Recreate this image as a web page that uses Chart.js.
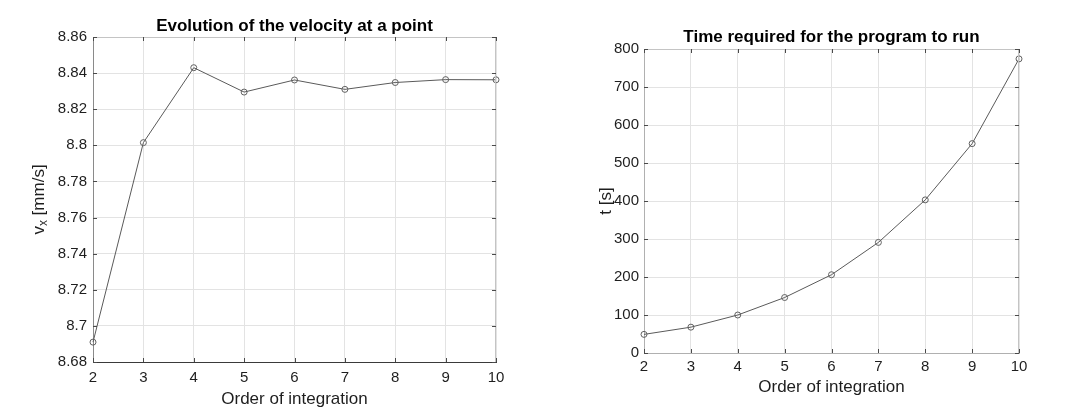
<!DOCTYPE html>
<html>
<head>
<meta charset="utf-8">
<script src="https://cdn.jsdelivr.net/npm/chart.js@4/dist/chart.umd.min.js"></script>
<style>
  html, body { margin: 0; padding: 0; background: #fff; }
  .wrap { position: absolute; top: 0; width: 540px; height: 419px; }
</style>
</head>
<body>
<div class="wrap" style="left:0"><canvas id="c1" width="540" height="419"></canvas></div>
<div class="wrap" style="left:540px"><canvas id="c2" width="540" height="419"></canvas></div>
<script>
// ---- data ----
const orders = [2, 3, 4, 5, 6, 7, 8, 9, 10];
const velocity = [8.691, 8.8015, 8.843, 8.8295, 8.8362, 8.831, 8.8348, 8.8364, 8.8363];
const runTime = [49, 68, 100, 146, 206, 291, 403, 551, 774];
const title1 = 'Evolution of the velocity at a point';
const title2 = 'Time required for the program to run';
const xTitle = 'Order of integration';
const yTitle1 = [{ text: 'v', sub: false }, { text: 'x', sub: true }, { text: ' [mm/s]', sub: false }];
const yTitle2 = [{ text: 't [s]', sub: false }];

const FONT = "'Liberation Sans', Arial, Helvetica, sans-serif";
const TXT = '#1e1e1e';

const matlabBox = {
  id: 'matlabBox',
  afterDraw(chart, args, opts) {
    const { ctx, chartArea: a, scales: { x, y } } = chart;
    ctx.save();
    ctx.lineWidth = 1;
    ctx.strokeStyle = opts.boxColor;
    ctx.beginPath();
    ctx.moveTo(a.left, Math.round(a.top) + 0.5); ctx.lineTo(a.right, Math.round(a.top) + 0.5);
    ctx.moveTo(Math.round(a.right) - 0.5, a.top); ctx.lineTo(Math.round(a.right) - 0.5, a.bottom);
    ctx.stroke();
    ctx.strokeStyle = '#4a4a4a';
    ctx.beginPath();
    const L = 4;
    x.ticks.forEach(t => {
      const px = Math.round(x.getPixelForValue(t.value)) + 0.5;
      ctx.moveTo(px, a.bottom); ctx.lineTo(px, a.bottom - L);
      ctx.moveTo(px, a.top); ctx.lineTo(px, a.top + L);
    });
    y.ticks.forEach(t => {
      const py = Math.round(y.getPixelForValue(t.value)) + 0.5;
      ctx.moveTo(a.left, py); ctx.lineTo(a.left + L, py);
      ctx.moveTo(a.right, py); ctx.lineTo(a.right - L, py);
    });
    ctx.stroke();
    // title centred over the plot area
    ctx.fillStyle = '#000';
    ctx.font = 'bold 17px ' + FONT;
    ctx.textAlign = 'center';
    ctx.textBaseline = 'alphabetic';
    ctx.fillText(opts.title, (a.left + a.right) / 2, opts.titleBaseline);
    // rotated y title with optional subscript
    const segs = opts.yTitle;
    const big = 17, small = 12;
    let total = 0;
    segs.forEach(s => { ctx.font = (s.sub ? small : big) + 'px ' + FONT; s.w = ctx.measureText(s.text).width; total += s.w; });
    ctx.translate(opts.titleX, (a.top + a.bottom) / 2);
    ctx.rotate(-Math.PI / 2);
    ctx.fillStyle = TXT;
    ctx.textAlign = 'left';
    let cx = -total / 2;
    segs.forEach(s => {
      ctx.font = (s.sub ? small : big) + 'px ' + FONT;
      ctx.fillText(s.text, cx, s.sub ? 3 : 0);
      cx += s.w;
    });
    ctx.restore();
  }
};

function makeChart(id, values, cfg) {
  return new Chart(document.getElementById(id), {
    type: 'line',
    data: {
      datasets: [{
        data: orders.map((o, i) => ({ x: o, y: values[i] })),
        borderColor: '#5a5a5a',
        borderWidth: 1,
        pointRadius: 3,
        pointBorderColor: '#606060',
        pointBackgroundColor: 'rgba(0,0,0,0)',
        pointBorderWidth: 1,
        tension: 0,
        clip: false
      }]
    },
    options: {
      responsive: false,
      animation: false,
      events: [],
      layout: { padding: { left: 0, right: cfg.padRight, top: cfg.padTop, bottom: 0 } },
      plugins: {
        legend: { display: false },
        tooltip: { enabled: false },
        title: { display: false },
        matlabBox: { boxColor: cfg.boxColor, yTitle: cfg.yTitle, titleX: cfg.yTitleX, title: cfg.title, titleBaseline: cfg.titleBaseline }
      },
      scales: {
        x: {
          type: 'linear', min: 2, max: 10,
          ticks: { stepSize: 1, color: TXT, font: { family: FONT, size: 15 }, padding: cfg.xTickPad, maxRotation: 0 },
          grid: { color: '#e3e3e3', drawTicks: false },
          border: { color: cfg.xBorder },
          title: { display: true, text: xTitle, color: TXT, font: { family: FONT, size: 17 }, padding: { top: 0, bottom: cfg.xTitleBottom } },
          afterFit: s => { s.height = cfg.xHeight; }
        },
        y: {
          min: cfg.yMin, max: cfg.yMax,
          ticks: { stepSize: cfg.yStep, color: TXT, font: { family: FONT, size: 15 }, padding: cfg.yTickPad,
            callback: v => String(+Number(v).toFixed(2)) },
          grid: { color: '#e3e3e3', drawTicks: false },
          border: { color: cfg.yBorder },
          afterFit: s => { s.width = cfg.yWidth; }
        }
      }
    },
    plugins: [matlabBox]
  });
}

makeChart('c1', velocity, {
  title: title1, titleBaseline: 31, padTop: 37, padRight: 44,
  xHeight: 57, xTickPad: 7, xTitleBottom: 9, yWidth: 93, yTickPad: 6,
  yMin: 8.68, yMax: 8.86, yStep: 0.02, yTitle: yTitle1, yTitleX: 44,
  boxColor: '#c4c4c4', xBorder: '#3a3a3a', yBorder: '#8a8a8a'
});
makeChart('c2', runTime, {
  title: title2, titleBaseline: 42, padTop: 49, padRight: 61,
  xHeight: 66, xTickPad: 5, xTitleBottom: 21, yWidth: 104, yTickPad: 5,
  yMin: 0, yMax: 800, yStep: 100, yTitle: yTitle2, yTitleX: 70.5,
  boxColor: '#c4c4c4', xBorder: '#b0b0b0', yBorder: '#b0b0b0'
});
</script>
</body>
</html>
